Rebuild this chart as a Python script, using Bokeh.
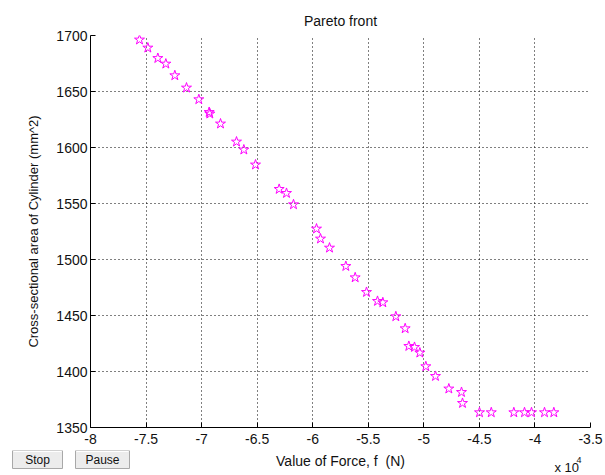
from bokeh.plotting import figure
from bokeh.models import Range1d, FixedTicker, ColumnDataSource
from bokeh.layouts import column
from bokeh.core.properties import value
from bokeh.embed import file_html
from bokeh.resources import INLINE

# Data (force in N, area in mm^2)
force = [-75590, -74840, -73940, -73220, -72410, -71360, -70250, -69320, -69260,
         -68300, -66860, -66200, -65150, -63020, -62360, -61730, -59660, -59300,
         -58490, -57020, -56180, -55160, -54170, -53690, -52520, -51680, -51350,
         -50840, -50360, -49820, -48950, -47750, -46610, -46520, -44990, -43930,
         -41900, -40940, -40310, -39140, -38300]
area = [1696.2, 1689.0, 1679.7, 1674.7, 1664.3, 1653.3, 1642.9, 1631.5, 1630.1,
        1621.2, 1605.1, 1598.0, 1584.6, 1562.8, 1559.2, 1549.1, 1527.4, 1518.5,
        1510.4, 1494.0, 1483.9, 1470.8, 1462.8, 1461.6, 1449.1, 1438.4, 1422.6,
        1421.7, 1416.7, 1404.5, 1395.8, 1384.6, 1381.5, 1371.7, 1363.4, 1363.4,
        1363.4, 1363.4, 1363.4, 1363.4, 1363.4]

x_ticks = [-80000, -75000, -70000, -65000, -60000, -55000, -50000, -45000, -40000, -35000]
x_tick_labels = ["-8", "-7.5", "-7", "-6.5", "-6", "-5.5", "-5", "-4.5", "-4", "-3.5"]
y_ticks = [1350, 1400, 1450, 1500, 1550, 1600, 1650, 1700]

x_label = "Value of Force, f\u00a0 (N)"
y_label = "Cross-sectional area of Cylinder (mm^2)"
button_labels = ["Stop", "Pause"]

FONT = "Liberation Sans"
TXT = "#111111"

# ---------------- main plot ----------------
p = figure(width=605, height=450, output_backend="svg", toolbar_location=None,
           x_range=Range1d(-80000, -35000), y_range=Range1d(1350, 1700),
           min_border_left=90, min_border_right=15, min_border_top=35, min_border_bottom=23)

p.title.text = "Pareto front"
p.title.align = "center"
p.title.text_font = FONT
p.title.text_font_size = "14px"
p.title.text_font_style = "normal"
p.title.text_color = TXT
p.title.standoff = 13

p.outline_line_color = None
p.background_fill_color = "white"
p.border_fill_color = "white"

src = ColumnDataSource(dict(x=force, y=area))
p.scatter("x", "y", source=src, marker="star", size=10.5, fill_color=None,
          line_color="#ff00ff", line_width=1)

for ax in (p.xaxis[0], p.yaxis[0]):
    ax.axis_line_color = "black"
    ax.major_tick_in = 5
    ax.major_tick_out = 0
    ax.minor_tick_line_color = None
    ax.major_label_text_font = FONT
    ax.major_label_text_font_size = "14px"
    ax.major_label_text_color = TXT
    ax.axis_label_text_font = FONT
    ax.axis_label_text_font_style = "normal"
    ax.axis_label_text_color = TXT

p.xaxis.ticker = FixedTicker(ticks=x_ticks)
p.xaxis.major_label_overrides = {t: l for t, l in zip(x_ticks, x_tick_labels)}
p.yaxis.ticker = FixedTicker(ticks=y_ticks)
p.yaxis.axis_label = y_label
p.yaxis.axis_label_text_font_size = "13px"
p.xaxis.major_label_standoff = 6
p.yaxis.major_label_standoff = 3
p.yaxis.axis_label_standoff = 12

for g in (p.xgrid[0], p.ygrid[0]):
    g.grid_line_color = "black"
    g.grid_line_dash = "1 3"
    g.grid_line_width = 1

# ---------------- bottom strip: buttons, x label, exponent ----------------
# pixel-like coordinates: x from the left of the page, y downward from the top of the strip
pb = figure(width=605, height=25, output_backend="svg", toolbar_location=None,
            x_range=Range1d(0, 605), y_range=Range1d(25, 0),
            x_axis_location=None, y_axis_location=None,
            min_border_left=0, min_border_right=0, min_border_top=0, min_border_bottom=0)
pb.grid.visible = False
pb.outline_line_color = None
pb.background_fill_color = "white"
pb.border_fill_color = "white"

# do not align the strip's frame with the main plot's frame
for fig in (p, pb):
    try:
        fig.frame_align = False
    except Exception:
        pass

btn_left = [12, 75]
btn_right = [62, 129]
pb.quad(left=btn_left, right=btn_right, top=[0, 0], bottom=[18, 18],
        fill_color="#ececec", line_color="#a8a8a8", line_width=1)
pb.segment(x0=[l + 1 for l in btn_left], y0=[1, 1], x1=[r - 1 for r in btn_right], y1=[1, 1],
           line_color="white", line_width=1)
pb.text(x=[(l + r) / 2 for l, r in zip(btn_left, btn_right)], y=[9, 9], text=button_labels,
        text_font=value(FONT), text_font_size="12px", text_color=TXT,
        text_align="center", text_baseline="middle")

pb.text(x=[340], y=[10], text=[x_label], text_font=value(FONT), text_font_size="14px",
        text_color=TXT, text_align="center", text_baseline="middle")
pb.text(x=[554], y=[17], text=["x 10"], text_font=value(FONT), text_font_size="13px",
        text_color=TXT, text_align="left", text_baseline="middle")
pb.text(x=[576], y=[9], text=["4"], text_font=value(FONT), text_font_size="9px",
        text_color=TXT, text_align="left", text_baseline="middle")

layout = column(p, pb, spacing=0)
open("out.html", "w").write(file_html(layout, INLINE))
